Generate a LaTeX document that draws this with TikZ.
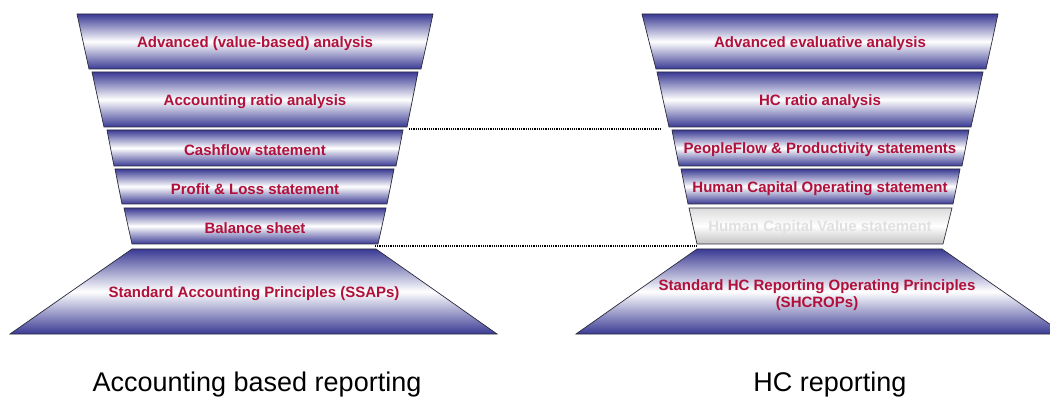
\documentclass[tikz,border=0pt]{standalone}
\usepackage{fontspec}
\setmainfont{Liberation Sans}
\usepackage{tikz}
\usetikzlibrary{positioning}

\definecolor{bandblue}{HTML}{3A3A94}
\definecolor{labelred}{HTML}{B0103A}
\definecolor{bandedge}{HTML}{2A2A3A}

\begin{document}
\begin{tikzpicture}[x=1pt,y=-1pt,
    band/.style={draw=bandedge, line width=0.7pt, top color=bandblue, bottom color=bandblue, middle color=white},
    paleband/.style={draw=bandedge, line width=0.7pt, top color=black!14, bottom color=black!24, middle color=white},
    bandtext/.style={text=labelred, font=\bfseries\fontsize{15}{17}\selectfont, align=center},
    link/.style={densely dotted, line width=1.2pt},
    caption/.style={font=\fontsize{27}{30}\selectfont}]
        \useasboundingbox (0,0) rectangle (1050,398);
        \clip (0,0) rectangle (1050,398);
        % Accounting funnel
        \path[band] (77,14) -- (433,14) -- (421,69) -- (89,69) -- cycle;
        \path[band] (92,72) -- (418,72) -- (407,127) -- (104,127) -- cycle;
        \path[band] (107,130) -- (403,130) -- (396,166) -- (114,166) -- cycle;
        \path[band] (115,169) -- (394,169) -- (387,204) -- (122,204) -- cycle;
        \path[band] (124,208) -- (386,208) -- (378,244) -- (132,244) -- cycle;
        \path[band] (132,249) -- (376,249) -- (497,334) -- (10,334) -- cycle;
        \node[bandtext] (a1) at (255,44) {Advanced (value-based) analysis};
        \node[bandtext] (a2) at (255,102) {Accounting ratio analysis};
        \node[bandtext] (a3) at (255,150) {Cashflow statement};
        \node[bandtext] (a4) at (255,189) {Profit \& Loss statement};
        \node[bandtext] (a5) at (255,228) {Balance sheet};
        \node[bandtext] (abase) at (254,294) {Standard Accounting Principles (SSAPs)};
        % HC funnel
        \path[band] (642,14) -- (998,14) -- (986,69) -- (656,69) -- cycle;
        \path[band] (657,72) -- (983,72) -- (971,127) -- (669,127) -- cycle;
        \path[band] (672,130) -- (969,130) -- (962,166) -- (679,166) -- cycle;
        \path[band] (681,169) -- (960,169) -- (953,204) -- (688,204) -- cycle;
        \path[paleband] (689,208) -- (952,208) -- (943,244) -- (697,244) -- cycle;
        \path[band] (697,249) -- (942,249) -- (1064,334) -- (576,334) -- cycle;
        \node[bandtext] (h1) at (820,44) {Advanced evaluative analysis};
        \node[bandtext] (h2) at (820,102) {HC ratio analysis};
        \node[bandtext] (h3) at (820,150) {PeopleFlow \& Productivity statements};
        \node[bandtext] (h4) at (820,189) {Human Capital Operating statement};
        \node[bandtext, text=black!12] (h5) at (820,228) {Human Capital Value statement};
        \node[bandtext] (hbase) at (817,295) {Standard HC Reporting Operating Principles\\(SHCROPs)};
        % Dotted links
        \coordinate (ratioL) at (409,129);
        \coordinate (ratioR) at (662,129);
        \coordinate (baseL) at (375,246);
        \coordinate (baseR) at (697,246);
        \draw[link] (ratioL) -- (ratioR);
        \draw[link] (baseL) -- (baseR);
        % Captions
        \node[caption] (acclabel) at (257,385) {Accounting based reporting};
        \node[caption] (hclabel) at (830,385) {HC reporting};
    \end{tikzpicture}
\end{document}
